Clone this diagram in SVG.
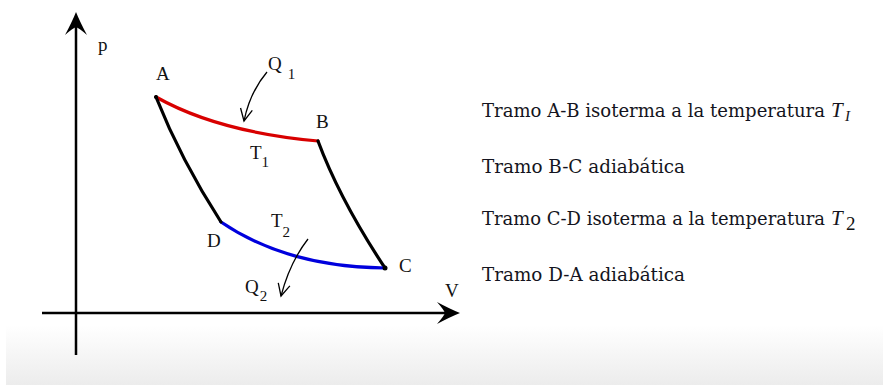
<svg xmlns="http://www.w3.org/2000/svg" width="883" height="385" viewBox="0 0 883 385">
<defs>
<linearGradient id="bg" x1="0" y1="0" x2="0" y2="1">
<stop offset="0" stop-color="#ffffff"/>
<stop offset="1" stop-color="#ececec"/>
</linearGradient>
<path id="axhead" d="M0,0 Q-10,-4 -23,-11 Q-16,-3 -15,0 Q-16,3 -23,11 Q-10,4 0,0 Z" fill="#000"/>
<marker id="thin" markerWidth="16" markerHeight="16" refX="13" refY="8" orient="auto" markerUnits="userSpaceOnUse">
<path d="M1,2 L13,8 L1,14" fill="none" stroke="#000" stroke-width="1.3"/>
</marker>
<style>
.lbl{font-family:"Liberation Serif","DejaVu Serif",serif;font-size:19px;fill:#111}
.sub{font-size:15px}
.txt{font-family:"DejaVu Serif","Liberation Serif",serif;font-size:18px;fill:#141420}
.it{font-family:"Liberation Serif","DejaVu Serif",serif;font-style:italic;fill:#141420}
.ax{stroke:#000;stroke-width:2.5;fill:none}
.cv{stroke-width:3.2;fill:none;stroke-linecap:round}
.q{stroke:#000;stroke-width:1.3;fill:none}
</style>
</defs>
<rect x="0" y="0" width="883" height="385" fill="#fff"/>
<rect x="6" y="325" width="877" height="60" fill="url(#bg)"/>

<g id="axes">
<line class="ax" x1="76" y1="20" x2="76" y2="355"/>
<use href="#axhead" transform="translate(76,12) rotate(-90)"/>
<line class="ax" x1="42" y1="313" x2="452" y2="313"/>
<use href="#axhead" transform="translate(460,313)"/>
<text class="lbl" x="98" y="51">p</text>
<text class="lbl" x="445" y="297">V</text>
</g>

<g id="connectors">
<path id="AB" class="cv" stroke="#d80000" d="M156,97 Q218,132 318,141"/>
<path id="BC" class="cv" stroke="#000" d="M318,141 Q340,200 385,268"/>
<path id="DC" class="cv" stroke="#0000dd" d="M221,222 Q287,267 385,268"/>
<path id="AD" class="cv" stroke="#000" d="M156,97 Q181,160 221,222"/>
<path id="Q1arrow" class="q" d="M267,72 Q250,92 244,121" marker-end="url(#thin)"/>
<path id="Q2arrow" class="q" d="M308,239 Q290,262 281,296" marker-end="url(#thin)"/>
</g>

<g id="A"><circle cx="156" cy="97" r="2" fill="#000"/><text class="lbl" x="156" y="80">A</text></g>
<g id="B"><text class="lbl" x="316" y="128">B</text></g>
<g id="C"><circle cx="385" cy="268" r="2.5" fill="#000"/><text class="lbl" x="399" y="272">C</text></g>
<g id="D"><text class="lbl" x="207" y="247">D</text></g>

<g id="T1"><text class="lbl" x="250" y="159">T<tspan class="sub" dy="8">1</tspan></text></g>
<g id="T2"><text class="lbl" x="271" y="227">T<tspan class="sub" dy="10">2</tspan></text></g>
<g id="Q1"><text class="lbl" x="268" y="70">Q<tspan class="sub" dx="6" dy="9">1</tspan></text></g>
<g id="Q2"><text class="lbl" x="245" y="293">Q<tspan class="sub" dx="1" dy="8">2</tspan></text></g>

<g id="legend">
<text class="txt" x="482" y="117" textLength="343" lengthAdjust="spacingAndGlyphs">Tramo A-B isoterma a la temperatura</text>
<text class="it" x="831" y="117" font-size="21">T</text><text class="it" x="845" y="121" font-size="15">I</text>
<text class="txt" x="482" y="173" textLength="203" lengthAdjust="spacingAndGlyphs">Tramo B-C adiabática</text>
<text class="txt" x="482" y="225" textLength="343" lengthAdjust="spacingAndGlyphs">Tramo C-D isoterma a la temperatura</text>
<text class="it" x="831" y="225" font-size="21">T</text><text class="lbl" x="846" y="230" font-size="16">2</text>
<text class="txt" x="482" y="281" textLength="203" lengthAdjust="spacingAndGlyphs">Tramo D-A adiabática</text>
</g>
</svg>
